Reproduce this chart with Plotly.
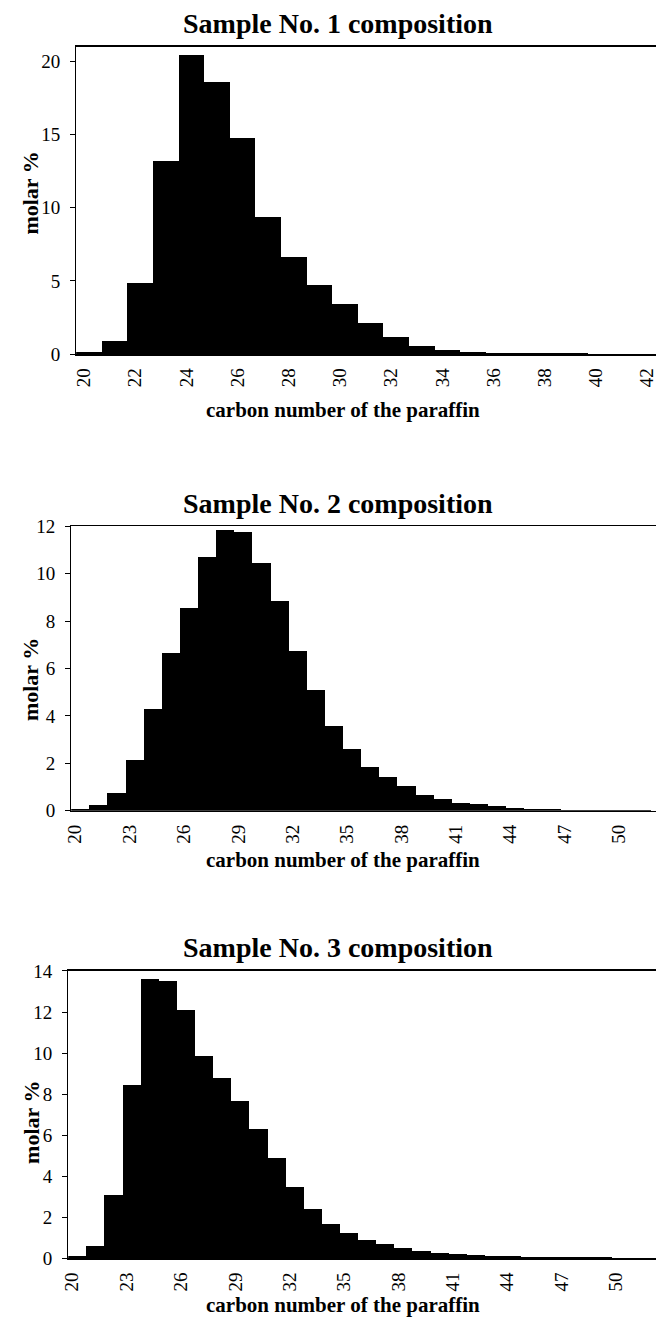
import plotly.graph_objects as go

# ---- data ----
carbon1 = list(range(20, 43))
molar1 = [0.15, 0.91, 4.86, 13.16, 20.45, 18.57, 14.75, 9.34, 6.62, 4.73, 3.42, 2.12,
          1.14, 0.53, 0.27, 0.16, 0.10, 0.07, 0.05, 0.04, 0.03, 0.02, 0.02]

carbon2 = list(range(20, 53))
molar2 = [0.07, 0.24, 0.73, 2.14, 4.29, 6.66, 8.57, 10.70, 11.82, 11.76, 10.46, 8.85,
          6.73, 5.08, 3.57, 2.62, 1.85, 1.44, 1.05, 0.66, 0.50, 0.34, 0.27, 0.18,
          0.13, 0.08, 0.06, 0.05, 0.04, 0.03, 0.02, 0.02, 0.01]

carbon3 = list(range(20, 53))
molar3 = [0.11, 0.62, 3.10, 8.47, 13.61, 13.52, 12.08, 9.85, 8.77, 7.66, 6.32, 4.88,
          3.46, 2.42, 1.68, 1.22, 0.88, 0.69, 0.51, 0.35, 0.27, 0.21, 0.16, 0.13,
          0.10, 0.08, 0.07, 0.06, 0.05, 0.05, 0.04, 0.04, 0.03]

titles = ["Sample No. 1 composition", "Sample No. 2 composition", "Sample No. 3 composition"]
x_title = "carbon number of the paraffin"
y_title = "molar %"
xticks1 = list(range(20, 43, 2))
xticks23 = list(range(20, 51, 3))
yticks1 = [0, 5, 10, 15, 20]
yticks2 = [0, 2, 4, 6, 8, 10, 12]
yticks3 = [0, 2, 4, 6, 8, 10, 12, 14]

W, H = 657, 1326
SERIF = "Liberation Serif, Times New Roman, serif"


def vy(y):
    # vertical placement (pixels from top) -> paper fraction
    y2 = 663 + (y - 663) * 1.011
    return 1 - y2 / H


fig = go.Figure()

panels = [
    dict(x=carbon1, y=molar1, left=70, top=44, bottom=353, xr=[19.5, 42.15], yr=[0, 21],
         xt=xticks1, yt=yticks1, ty=21, xty=409, yty=191),
    dict(x=carbon2, y=molar2, left=65, top=526, bottom=812, xr=[19.5, 51.76], yr=[0, 12],
         xt=xticks23, yt=yticks2, ty=503, xty=861, yty=680),
    dict(x=carbon3, y=molar3, left=62, top=973, bottom=1262, xr=[19.5, 51.94], yr=[0, 14],
         xt=xticks23, yt=yticks3, ty=949, xty=1309, yty=1125),
]

layout = dict(
    width=W, height=H, margin=dict(l=0, r=0, t=0, b=0),
    paper_bgcolor="white", plot_bgcolor="white", showlegend=False,
    bargap=0, font=dict(family=SERIF, color="black"),
)
annotations = []
for i, p in enumerate(panels, start=1):
    xa = "x" if i == 1 else f"x{i}"
    ya = "y" if i == 1 else f"y{i}"
    fig.add_trace(go.Bar(x=p["x"], y=p["y"], xaxis=xa, yaxis=ya,
                         marker=dict(color="black", line=dict(width=0)), width=1.0,
                         hoverinfo="skip"))
    layout[f"xaxis{'' if i == 1 else i}"] = dict(
        domain=[p["left"] / W, 1], range=p["xr"], anchor=ya,
        tickmode="array", tickvals=p["xt"], ticktext=[str(v) for v in p["xt"]],
        tickangle=-90, tickfont=dict(family=SERIF, size=19, color="black"),
        ticklabelstandoff=5, ticklabelshift=-5, ticklabeloverflow="allow",
        showline=True, linecolor="black", linewidth=1.5, mirror=True,
        showgrid=False, zeroline=False, ticks="", fixedrange=True,
    )
    layout[f"yaxis{'' if i == 1 else i}"] = dict(
        domain=[vy(p["bottom"]), vy(p["top"])], range=p["yr"], anchor=xa,
        tickmode="array", tickvals=p["yt"], ticktext=[str(v) for v in p["yt"]],
        tickfont=dict(family=SERIF, size=19, color="black"),
        ticklabelstandoff=6,
        showline=True, linecolor="black", linewidth=1.2,
        ticks="outside", ticklen=5, tickcolor="black", tickwidth=1,
        showgrid=False, zeroline=False, fixedrange=True,
    )
    annotations.append(dict(text=f"<b>{titles[i-1]}</b>", x=335 / W, y=vy(p["ty"]),
                            xref="paper", yref="paper", xanchor="center", yanchor="middle",
                            showarrow=False, font=dict(family=SERIF, size=28, color="black")))
    annotations.append(dict(text=f"<b>{x_title}</b>", x=340 / W, y=vy(p["xty"]),
                            xref="paper", yref="paper", xanchor="center", yanchor="middle",
                            showarrow=False, font=dict(family=SERIF, size=21, color="black")))
    annotations.append(dict(text=f"<b>{y_title}</b>", x=24 / W, y=vy(p["yty"]),
                            xref="paper", yref="paper", xanchor="center", yanchor="middle",
                            textangle=-90, showarrow=False,
                            font=dict(family=SERIF, size=22, color="black")))

layout["annotations"] = annotations
fig.update_layout(**layout)
fig.write_html("out.html", config={"displayModeBar": False, "staticPlot": True},
               post_script="document.body.style.margin='0';document.body.style.overflow='hidden';")
